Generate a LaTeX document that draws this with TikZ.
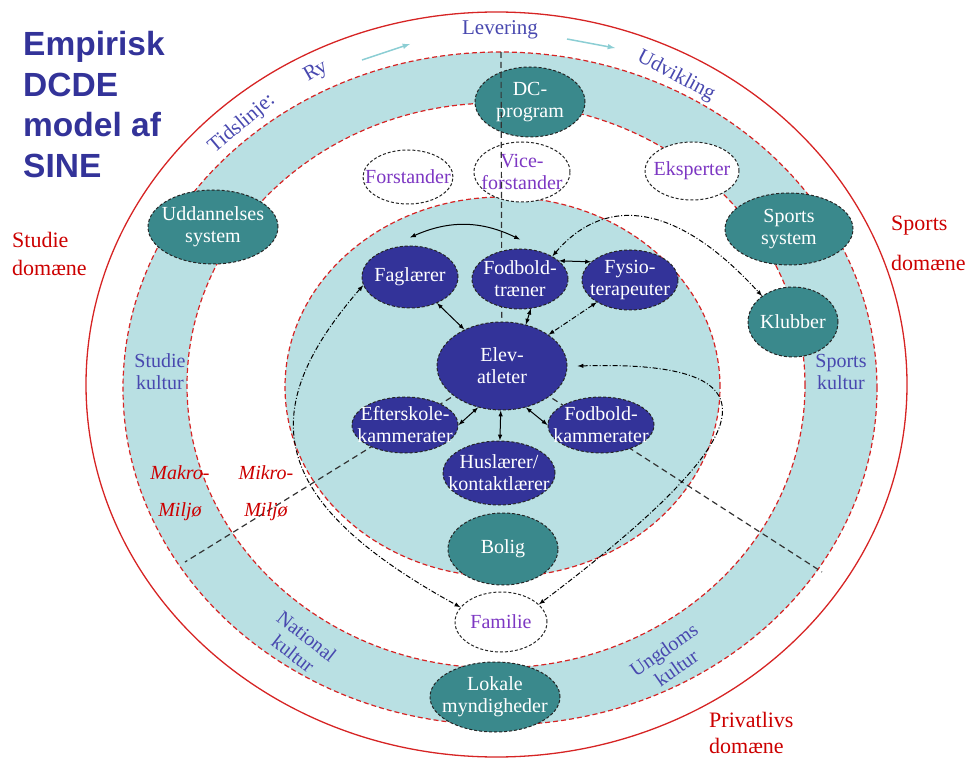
\documentclass[tikz,border=0pt]{standalone}
\usepackage{fontspec}
\setmainfont{Liberation Serif}
\newfontfamily\titlefont{Liberation Sans}
\usetikzlibrary{shapes.geometric}
\definecolor{bandblue}{RGB}{185,224,227}
\definecolor{tealc}{RGB}{58,137,140}
\definecolor{navyc}{RGB}{51,51,153}
\definecolor{ringred}{RGB}{214,36,36}
\definecolor{labelblue}{RGB}{72,72,175}
\definecolor{purplec}{RGB}{125,55,195}
\definecolor{domred}{RGB}{204,0,0}
\definecolor{timeblue}{RGB}{140,206,212}
\begin{document}
\begin{tikzpicture}[x=1pt,y=-1pt,>=latex,
nodefont/.style={font=\fontsize{20}{22}\selectfont},
actor/.style={ellipse,draw=black!85,dash pattern=on 3pt off 2pt,line width=1pt,inner xsep=-12pt,inner ysep=-4pt,align=center,nodefont},
tealnode/.style={actor,fill=tealc,text=white},
corenode/.style={actor,fill=navyc,text=white},
opennode/.style={actor,fill=white,text=purplec},
ringline/.style={ringred,line width=1.2pt,dash pattern=on 5pt off 3pt},
divline/.style={black!80,line width=1.2pt,dash pattern=on 6pt off 4pt},
dbl/.style={<->,line width=1pt},
ddot/.style={<->,line width=1pt,dash pattern=on 5pt off 2pt on 1pt off 2pt},
tidlabel/.style={text=labelblue,font=\fontsize{21}{22}\selectfont},
kultur/.style={text=labelblue,align=center,nodefont},
domlabel/.style={text=domred,align=left,anchor=west,inner sep=0pt},
miljo/.style={text=domred,align=center,font=\fontsize{20}{37}\selectfont\itshape}]
\useasboundingbox (0,0) rectangle (967,759);

\draw[ringred,line width=1.3pt] (496.5,384.5) ellipse [x radius=410.5pt,y radius=372.5pt];
\fill[bandblue,even odd rule] (500,388.5) ellipse [x radius=377pt,y radius=336.5pt] (496,385.5) ellipse [x radius=309pt,y radius=282.5pt];
\draw[ringline] (500,388.5) ellipse [x radius=377pt,y radius=336.5pt];
\draw[ringline] (496,385.5) ellipse [x radius=309pt,y radius=282.5pt];
\draw[ringline,fill=bandblue] (502.5,387) ellipse [x radius=217.5pt,y radius=190pt];

\coordinate (ec) at (502,366);
\coordinate (tl) at (501,52);
\coordinate (mkl) at (185,562);
\coordinate (mkr) at (822,572);
\draw[divline] (ec) -- (mkl);
\draw[divline] (ec) -- (mkr);

\draw (530,102) node[tealnode,minimum width=110pt,minimum height=70pt] (dc) {DC-\\program};
\draw (522,172) node[opennode,minimum width=96pt,minimum height=60pt] (vice) {Vice-\\forstander};
\draw (408,177) node[opennode,minimum width=90pt,minimum height=54pt] (forst) {Forstander};
\draw (692,171) node[opennode,minimum width=94pt,minimum height=58pt] (eksp) {Eksperter};
\draw (789,229) node[tealnode,minimum width=128pt,minimum height=72pt] (sport) {Sports\\system};
\draw (793,322) node[tealnode,minimum width=90pt,minimum height=70pt] (klub) {Klubber};
\draw (213,227) node[tealnode,minimum width=130pt,minimum height=74pt] (udd) {Uddannelses\\system};
\draw (503,549) node[tealnode,minimum width=110pt,minimum height=72pt] (bolig) {Bolig};
\draw (501,622) node[opennode,minimum width=92pt,minimum height=60pt] (fam) {Familie};
\draw (495,697) node[tealnode,minimum width=130pt,minimum height=70pt] (lokal) {Lokale\\myndigheder};

\draw[divline] (tl) -- (ec);

\draw (410,277) node[corenode,minimum width=96pt,minimum height=62pt] (fag) {Faglærer};
\draw (520,279) node[corenode,minimum width=96pt,minimum height=60pt] (fod) {Fodbold-\\træner};
\draw (630,280) node[corenode,minimum width=96pt,minimum height=60pt] (fys) {Fysio-\\terapeuter};
\draw (ec) node[corenode,minimum width=130pt,minimum height=88pt] (elev) {Elev-\\atleter};
\draw (405,425) node[corenode,minimum width=106pt,minimum height=56pt] (eft) {Efterskole-\\kammerater};
\draw (601,425) node[corenode,minimum width=106pt,minimum height=56pt] (fkam) {Fodbold-\\kammerater};
\draw (499,473) node[corenode,minimum width=112pt,minimum height=64pt] (hus) {Huslærer/\\kontaktlærer};

\draw[dbl] ([yshift=8pt]fag.north) to[bend left=25] ([yshift=9pt]fod.north);
\draw[dbl] (fod.25) -- (fys.155);
\draw[dbl] (fag) -- (elev);
\draw[dbl] (fod.-70) -- (elev.60);
\draw[ddot] (fys) -- (elev);
\draw[dbl] (eft.east) -- (elev.-120);
\draw[dbl] (hus) -- (elev);
\draw[dbl] (fkam.west) -- (elev.-60);
\draw[ddot] (fod.35) .. controls (600,200) and (670,195) .. (klub.140);
\draw[ddot] ([xshift=10pt]elev.east) .. controls (780,360) and (770,430) .. (fam.25);
\draw[ddot] (fag.190) .. controls (255,410) and (265,500) .. (fam.160);

\draw[->,timeblue,line width=1.5pt] (362,60) -- (410,44);
\draw[->,timeblue,line width=1.5pt] (567,39) -- (615,48);
\draw (500,30) node[tidlabel] (lev) {Levering};
\draw (242,124) node[tidlabel,rotate=40] (tid) {Tidslinje:};
\draw (316,72) node[tidlabel,rotate=30] (ry) {Ry};
\draw (676,76) node[tidlabel,rotate=-28] (udv) {Udvikling};

\draw (160,372) node[kultur] (stk) {Studie\\kultur};
\draw (841,372) node[kultur] (spk) {Sports\\kultur};
\draw (300,645) node[kultur,rotate=-38] (nat) {National\\kultur};
\draw (670,659) node[kultur,rotate=35] (ung) {Ungdoms\\kultur};
\draw (180,493) node[miljo] (makro) {Makro-\\Miljø};
\draw (266,493) node[miljo] (mikro) {Mikro-\\Miljø};

\draw (12,254) node[domlabel,font=\fontsize{22}{28}\selectfont] (stdom) {Studie\\domæne};
\draw (891,243) node[domlabel,font=\fontsize{22}{40}\selectfont] (spdom) {Sports\\domæne};
\draw (709,733) node[domlabel,font=\fontsize{22}{26}\selectfont] (prdom) {Privatlivs\\domæne};
\draw (23,31) node[anchor=north west,align=left,inner sep=0pt,text=navyc,font=\titlefont\bfseries\fontsize{33.5}{40.7}\selectfont] (title) {Empirisk\\DCDE\\model af\\SINE};
\end{tikzpicture}
\end{document}
